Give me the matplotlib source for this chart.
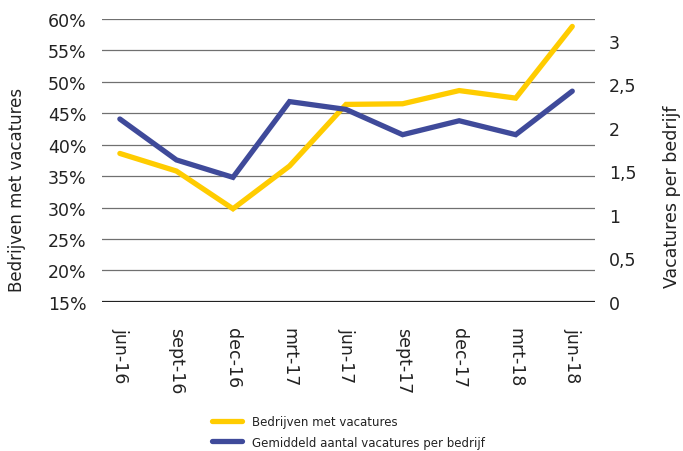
import matplotlib.pyplot as plt
from matplotlib.ticker import FuncFormatter

periods = ['jun-16', 'sept-16', 'dec-16', 'mrt-17', 'jun-17', 'sept-17', 'dec-17', 'mrt-18', 'jun-18']
bedrijven_pct = [38.6, 35.8, 29.8, 36.6, 46.4, 46.5, 48.6, 47.4, 58.8]
vac_per_bedrijf = [2.10, 1.63, 1.43, 2.30, 2.21, 1.92, 2.08, 1.92, 2.42]

left_ticks = [15, 20, 25, 30, 35, 40, 45, 50, 55, 60]
right_ticks = [0, 0.5, 1, 1.5, 2, 2.5, 3]

yellow = '#FFCC00'
blue = '#3F4A9A'
txt = '#222222'

fig = plt.figure(figsize=(6.83, 4.52), dpi=100)
ax = fig.add_axes([0.149, 0.330, 0.722, 0.626])
ax2 = ax.twinx()

x = range(len(periods))
l1, = ax.plot(x, bedrijven_pct, color=yellow, linewidth=3.8, solid_capstyle='round',
              solid_joinstyle='miter', label='Bedrijven met vacatures', zorder=3)
l2, = ax2.plot(x, vac_per_bedrijf, color=blue, linewidth=3.8, solid_capstyle='round',
               solid_joinstyle='miter', label='Gemiddeld aantal vacatures per bedrijf', zorder=4)

ax.set_ylim(15, 60)
ax.set_xlim(-0.32, 8.4)
ax.set_yticks(left_ticks)
ax.yaxis.set_major_formatter(FuncFormatter(lambda v, p: f'{v:.0f}%'))
for t in left_ticks:
    if t == 15:
        ax.axhline(t, color='#222222', linewidth=1.6, zorder=1)
    else:
        ax.axhline(t, color='#707070', linewidth=0.9, zorder=1)

ax2.set_ylim(0, 3.25)
ax2.set_yticks(right_ticks)
ax2.yaxis.set_major_formatter(FuncFormatter(lambda v, p: f'{v:g}'.replace('.', ',')))

ax.set_xticks(list(x))
ax.set_xticklabels(periods, rotation=270, fontsize=12.5, color=txt)
ax.tick_params(axis='x', length=0, pad=18)
ax.tick_params(axis='y', length=0, pad=11, labelsize=12.5, labelcolor=txt)
ax2.tick_params(axis='y', length=0, pad=10, labelsize=12.5, labelcolor=txt)

for a in (ax, ax2):
    for s in a.spines.values():
        s.set_visible(False)

ax.set_ylabel('Bedrijven met vacatures', fontsize=12, color=txt)
ax.yaxis.set_label_coords(-0.154, 0.40)
ax2.set_ylabel('Vacatures per bedrijf', fontsize=12.5, color=txt)
ax2.yaxis.set_label_coords(1.138, 0.375)

leg = fig.legend(handles=[l1, l2], loc='lower center', bbox_to_anchor=(0.51, -0.018),
                 frameon=False, fontsize=8.5, handlelength=2.5, handletextpad=0.85,
                 labelspacing=0.65)
for t in leg.get_texts():
    t.set_color(txt)

fig.savefig('out.png', dpi=100)
